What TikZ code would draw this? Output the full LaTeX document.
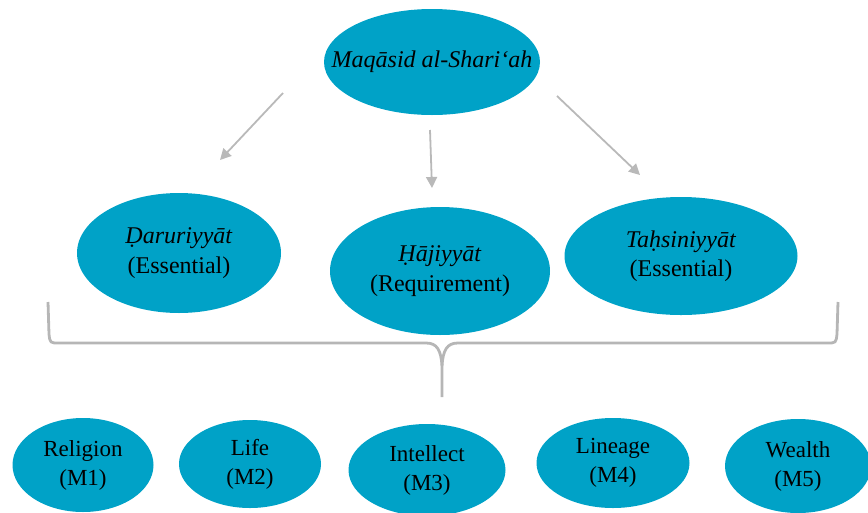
\documentclass[tikz,border=0pt]{standalone}
\usepackage{fontspec}
\setmainfont{Liberation Serif}
\usetikzlibrary{arrows.meta,shapes.geometric,positioning}
\definecolor{ovalcol}{RGB}{0,162,199}
\definecolor{arrowcol}{RGB}{185,185,185}
\definecolor{bracecol}{RGB}{182,182,182}

\begin{document}
\begin{tikzpicture}[x=1pt,y=-1pt,>={Triangle[length=11pt,width=11pt]},
    blob/.style={ellipse,fill=ovalcol,inner sep=0pt},
    txt/.style={align=center,inner sep=0pt,font=\fontsize{24}{29.5}\selectfont},
    smalltxt/.style={txt,font=\fontsize{23}{29}\selectfont}]
  \useasboundingbox (0,0) rectangle (868,512);
  % top goal
  \node[blob,minimum width=216pt,minimum height=106pt] (maqasid) at (432,62) {};
  \node[txt] (maqasid-t) at (maqasid) {\textit{Maqāsid al-Shari‘ah}};
  % three levels
  \node[blob,minimum width=204pt,minimum height=120pt] (dar) at (179,253) {};
  \node[txt] (dar-t) at (dar) {\textit{Ḍaruriyyāt}\\(Essential)};
  \node[blob,minimum width=220pt,minimum height=128pt] (haj) at (440,271) {};
  \node[txt] (haj-t) at (haj) {\textit{Ḥājiyyāt}\\(Requirement)};
  \node[blob,minimum width=233pt,minimum height=118pt] (tah) at (681,256) {};
  \node[txt] (tah-t) at (tah) {\textit{Taḥsiniyyāt}\\(Essential)};
  % arrows, free standing
  \coordinate (a1s) at (283,93);  \coordinate (a1e) at (220,160);
  \coordinate (a2s) at (430,130); \coordinate (a2e) at (432,188);
  \coordinate (a3s) at (557,96);  \coordinate (a3e) at (640,175);
  \foreach \i in {1,2,3}
    \draw[->,arrowcol,line width=1.8pt] (a\i s) -- (a\i e);
  % brace
  \draw[bracecol,line width=2.8pt,line join=round]
    (48,302) -- (49,334) .. controls (50,343) .. (59,343) -- (426,343)
    .. controls (437,343) and (441,350) .. (442,366) -- (442,397);
  \draw[bracecol,line width=2.8pt,line join=round]
    (838,302) -- (837,334) .. controls (836,343) .. (827,343) -- (458,343)
    .. controls (447,343) and (443,350) .. (442,366);
  % the five maqasid
  \foreach \nm/\x/\y/\w/\h/\lab in {m1/83/465/141/94/Religion,
      m2/250/464/142/88/Life, m3/427/470/157/92/Intellect,
      m4/613/463/153/90/Lineage, m5/798/466/146/94/Wealth}{
    \node[blob,minimum width=\w pt,minimum height=\h pt] (\nm) at (\x,\y) {};
    \node[smalltxt] (\nm-t) at (\nm) {\lab\\(\MakeUppercase{\nm})};
  }
\end{tikzpicture}
\end{document}
